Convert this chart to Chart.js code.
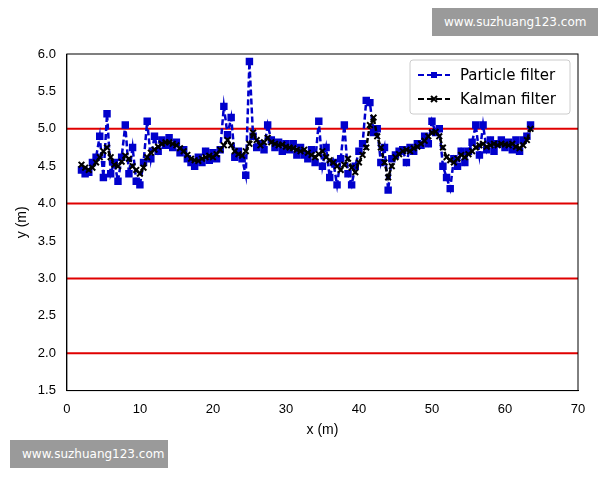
<!DOCTYPE html>
<html>
<head>
<meta charset="utf-8">
<script src="https://cdn.jsdelivr.net/npm/chart.js@4"></script>
<style>
  body { margin: 0; background: #fff; font-family: "DejaVu Sans", sans-serif; }
  #wrap { position: relative; width: 600px; height: 480px; }
  .mark { position: absolute; background: #9a9a9a; color: #fff; font-size: 12px; padding: 7px 12px; }
</style>
</head>
<body>
<div id="wrap">
  <canvas id="graph" width="600" height="480"></canvas>
  <div class="mark" style="left:432px;top:8px;width:142px;">www.suzhuang123.com</div>
  <div class="mark" style="left:10px;top:440px;width:134px;">www.suzhuang123.com</div>
</div>
<script>
// x positions (m)
var xs = [2,2.5,3,3.5,4,4.5,5,5.5,6,6.5,7,7.5,8,8.5,9,9.5,10,10.5,11,11.5,
  12,12.5,13,13.5,14,14.5,15,15.5,16,16.5,17,17.5,18,18.5,19,19.5,20,20.5,21,21.5,
  22,22.5,23,23.5,24,24.5,25,25.5,26,26.5,27,27.5,28,28.5,29,29.5,30,30.5,31,31.5,
  32,32.5,33,33.5,34,34.5,35,35.5,36,36.5,37,37.5,38,38.5,39,39.5,40,40.5,41,41.5,
  42,42.5,43,43.5,44,44.5,45,45.5,46,46.5,47,47.5,48,48.5,49,49.5,50,50.5,51,51.5,
  52,52.5,53,53.5,54,54.5,55,55.5,56,56.5,57,57.5,58,58.5,59,59.5,60,60.5,61,61.5,
  62,62.5,63,63.5];
var particle = [4.45,4.40,4.42,4.55,4.62,4.90,4.35,5.20,4.40,4.55,4.30,4.62,5.05,4.40,4.75,4.30,4.25,4.55,5.10,4.60,
  4.90,4.70,4.85,4.78,4.88,4.75,4.82,4.68,4.72,4.60,4.55,4.50,4.62,4.55,4.70,4.58,4.68,4.60,4.72,5.30,
  4.92,5.15,4.62,4.70,4.60,4.38,5.90,4.90,4.75,4.80,4.72,5.05,4.85,4.75,4.82,4.70,4.80,4.72,4.80,4.65,
  4.75,4.65,4.60,4.72,4.55,5.10,4.50,4.75,4.35,4.55,4.25,4.60,5.05,4.40,4.25,4.50,4.70,4.80,5.38,5.35,
  4.95,5.00,4.55,4.75,4.18,4.60,4.65,4.70,4.72,4.55,4.75,4.70,4.80,4.78,4.90,4.80,5.10,4.95,5.00,4.50,
  4.35,4.20,4.60,4.50,4.70,4.55,4.70,4.82,5.05,4.65,5.05,4.72,4.85,4.70,4.80,4.85,4.75,4.82,4.72,4.85,
  4.70,4.85,4.90,5.05];
var kalman = [4.52,4.48,4.45,4.48,4.55,4.62,4.70,4.75,4.62,4.52,4.50,4.56,4.64,4.60,4.50,4.45,4.40,4.48,4.62,4.68,
  4.72,4.76,4.80,4.82,4.82,4.80,4.78,4.74,4.70,4.65,4.60,4.58,4.57,4.60,4.62,4.64,4.62,4.66,4.72,4.78,
  4.85,4.78,4.70,4.66,4.64,4.70,4.80,4.95,4.85,4.78,4.82,4.88,4.82,4.80,4.78,4.79,4.76,4.75,4.74,4.72,
  4.70,4.72,4.68,4.65,4.62,4.66,4.70,4.62,4.58,4.55,4.50,4.45,4.52,4.60,4.48,4.42,4.55,4.65,4.75,5.05,
  5.15,4.90,4.75,4.55,4.35,4.50,4.62,4.66,4.70,4.72,4.70,4.74,4.76,4.80,4.84,4.90,4.95,4.96,4.90,4.75,
  4.62,4.58,4.55,4.60,4.65,4.62,4.66,4.70,4.75,4.78,4.80,4.76,4.78,4.80,4.78,4.80,4.79,4.78,4.80,4.76,
  4.74,4.78,4.85,5.00];
// red reference lines
var refLevels = [2, 3, 4, 5];
var yTicks = [1.5, 2.0, 2.5, 3.0, 3.5, 4.0, 4.5, 5.0, 5.5, 6.0];

function pairs(ys) {
    return xs.map(function (x, i) { return { x: x, y: ys[i] }; });
}

var datasets = refLevels.map(function (lv) {
    return {
        data: [{ x: 0, y: lv }, { x: 70, y: lv }],
        borderColor: '#e00000', borderWidth: 2, pointRadius: 0, order: 3
    };
});
datasets.push({
    label: 'Particle filter', data: pairs(particle),
    borderColor: '#0000cc', backgroundColor: '#0000cc', borderWidth: 2.5, borderDash: [6, 3],
    pointStyle: 'rect', pointRadius: 3.5, order: 2
});
datasets.push({
    label: 'Kalman filter', data: pairs(kalman),
    borderColor: '#000', backgroundColor: '#000', borderWidth: 2.5, borderDash: [5, 2],
    pointStyle: 'crossRot', pointRadius: 4, pointBorderWidth: 2, order: 1
});

// legend box drawn inside the plot, top right
var legendBox = {
    id: 'legendBox',
    afterDraw: function (chart) {
        var ctx = chart.ctx, a = chart.chartArea;
        var w = 160, h = 54, x = a.right - w - 8, y = a.top + 6;
        ctx.save();
        ctx.fillStyle = 'rgba(255,255,255,0.85)';
        ctx.strokeStyle = '#ccc';
        ctx.lineWidth = 1;
        ctx.beginPath(); ctx.roundRect(x, y, w, h, 3); ctx.fill(); ctx.stroke();
        ctx.font = '15px "DejaVu Sans"';
        ctx.textBaseline = 'middle';
        var rows = [['Particle filter', '#0000cc', 'rect'], ['Kalman filter', '#000', 'cross']];
        rows.forEach(function (r, i) {
            var cy = y + 15 + i * 24;
            ctx.strokeStyle = r[1]; ctx.fillStyle = r[1]; ctx.lineWidth = 2;
            ctx.setLineDash([6, 3]);
            ctx.beginPath(); ctx.moveTo(x + 8, cy); ctx.lineTo(x + 40, cy); ctx.stroke();
            ctx.setLineDash([]);
            if (r[2] === 'rect') ctx.fillRect(x + 21, cy - 3, 6, 6);
            else { ctx.beginPath(); ctx.moveTo(x + 21, cy - 3); ctx.lineTo(x + 27, cy + 3); ctx.moveTo(x + 27, cy - 3); ctx.lineTo(x + 21, cy + 3); ctx.stroke(); }
            ctx.fillStyle = '#000';
            ctx.fillText(r[0], x + 50, cy + 1);
        });
        ctx.restore();
    }
};

var frame = {
    id: 'frame',
    afterDraw: function (chart) {
        var c = chart.ctx, a = chart.chartArea;
        c.save(); c.strokeStyle = '#000'; c.lineWidth = 1;
        c.strokeRect(a.left, a.top, a.right - a.left, a.bottom - a.top);
        c.restore();
    }
};

new Chart(document.getElementById('graph'), {
    type: 'line',
    data: { datasets: datasets },
    plugins: [legendBox, frame],
    options: {
        responsive: false, animation: false,
        layout: { padding: { left: 10, right: 22, top: 54, bottom: 37 } },
        plugins: { legend: { display: false }, tooltip: { enabled: false } },
        scales: {
            x: {
                type: 'linear', min: 0, max: 70,
                grid: { display: false },
                border: { color: '#000', width: 1 },
                ticks: { stepSize: 10, color: '#000', font: { size: 13 } },
                title: { display: true, text: 'x (m)', color: '#000', font: { size: 14 }, padding: { top: 2 } }
            },
            y: {
                type: 'linear', min: 1.5, max: 6.0,
                afterBuildTicks: function (s) { s.ticks = yTicks.map(function (v) { return { value: v }; }); },
                grid: { display: false },
                border: { color: '#000', width: 1 },
                ticks: { color: '#000', font: { size: 13 }, callback: function (v) { return v.toFixed(1); } },
                title: { display: true, text: 'y (m)', color: '#000', font: { size: 14 } }
            }
        }
    }
});
</script>
</body>
</html>
